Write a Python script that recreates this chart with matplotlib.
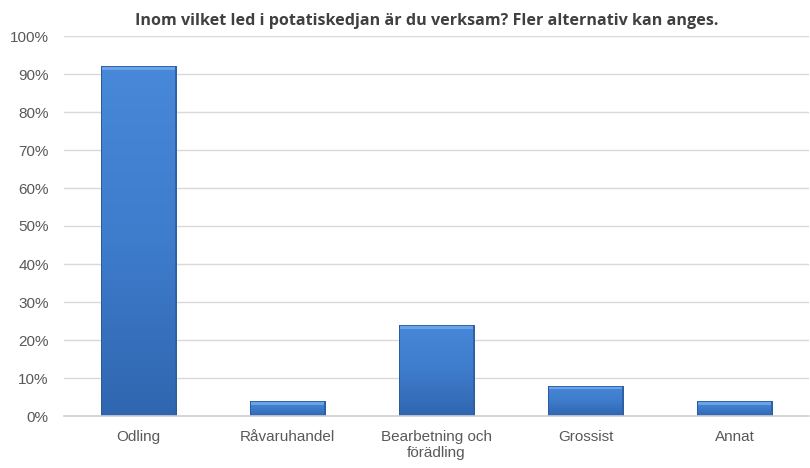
import numpy as np
import matplotlib
matplotlib.use("Agg")
import matplotlib.pyplot as plt
from matplotlib.colors import LinearSegmentedColormap

categories = ["Odling", "Råvaruhandel", "Bearbetning och\nförädling", "Grossist", "Annat"]
shares = [0.92, 0.04, 0.24, 0.08, 0.04]
yticks = [0.0, 0.1, 0.2, 0.3, 0.4, 0.5, 0.6, 0.7, 0.8, 0.9, 1.0]
title = "Inom vilket led i potatiskedjan är du verksam? Fler alternativ kan anges."

plt.rcParams['font.family'] = ['Liberation Sans', 'DejaVu Sans']

fig = plt.figure(figsize=(8.1, 4.68), dpi=100)
ax = fig.add_axes([64 / 810, 1 - 416 / 468, 745 / 810, 380 / 468])

x = np.arange(len(categories))
bars = ax.bar(x, shares, width=0.51, color="#3f7cc9", edgecolor="#2a5a9a",
              linewidth=0.6, zorder=2)

# vertical gradient + light bevel on top, clipped to each bar
grad = LinearSegmentedColormap.from_list("bar", ["#3066b0", "#3e7ccc", "#4888d8"])
for b in bars:
    x0, y0 = b.get_x(), b.get_y()
    w, h = b.get_width(), b.get_height()
    img = ax.imshow(np.linspace(0, 1, 256).reshape(-1, 1), cmap=grad, origin="lower",
                    extent=(x0, x0 + w, y0, y0 + h), aspect="auto", zorder=2.1)
    img.set_clip_path(b)
    ax.add_patch(plt.Rectangle((x0 + 0.012, y0 + h - 0.01), w - 0.024, 0.01,
                               color="#6aa3ea", lw=0, zorder=2.2))
    ax.add_patch(plt.Rectangle((x0, y0), 0.012, h, color="#2f62a8", lw=0, zorder=2.2))
    ax.add_patch(plt.Rectangle((x0 + w - 0.012, y0), 0.012, h, color="#2f62a8", lw=0, zorder=2.2))
    ax.add_patch(plt.Rectangle((x0, y0), w, h, fill=False, ec="#2a5a9a",
                               lw=0.6, zorder=2.3))

ax.set_xlim(-0.5, len(categories) - 0.5)
ax.set_ylim(0, 1.0)
ax.set_yticks(yticks)
ax.set_yticklabels([f"{int(round(t * 100))}%" for t in yticks])
ax.set_xticks(x)
ax.set_xticklabels(categories, linespacing=1.15)

ax.grid(axis="y", color="#d9d9d9", linewidth=1.0, zorder=0)
ax.set_axisbelow(True)
for s in ["top", "right", "left"]:
    ax.spines[s].set_visible(False)
ax.spines["bottom"].set_color("#d0d0d0")
ax.spines["bottom"].set_linewidth(1.2)
ax.tick_params(axis="both", length=0, labelsize=11, colors="#595959")
ax.tick_params(axis="x", pad=10)
ax.tick_params(axis="y", pad=11)

fig.text(0.5265, 0.972, title, ha="center", va="top", fontsize=11.6, fontweight="bold",
         color="#404040", family=["Open Sans", "DejaVu Sans"])

fig.savefig("out.png", dpi=100)
